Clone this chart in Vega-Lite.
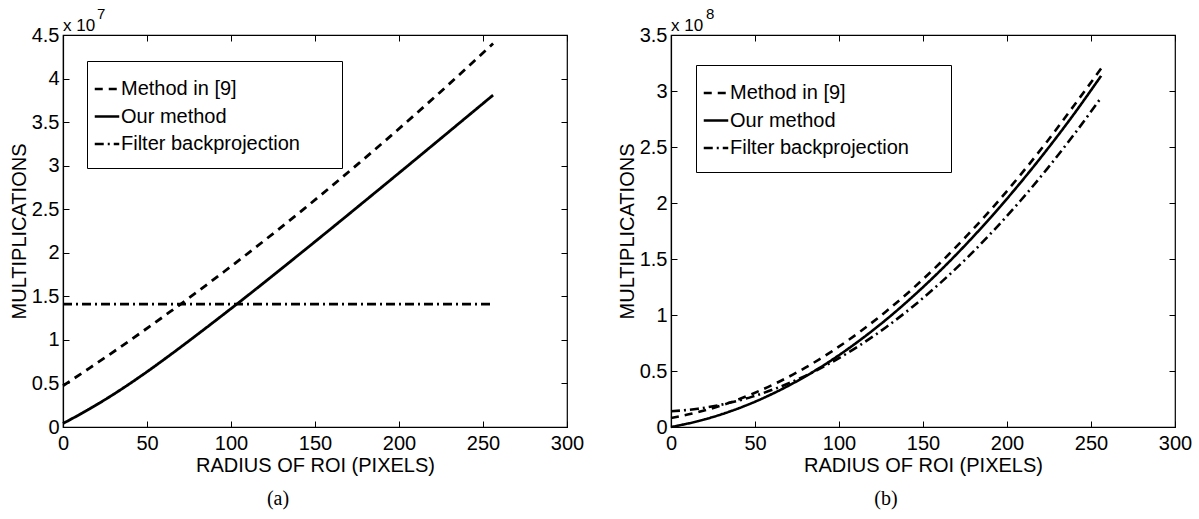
{
  "$schema": "https://vega.github.io/schema/vega-lite/v6.json",
  "background": "white",
  "padding": {"left": 8, "top": 6, "right": 5, "bottom": 5},
  "bounds": "flush",
  "spacing": 104,
  "config": {
    "font": "Liberation Sans",
    "view": {"stroke": "black", "strokeWidth": 1.2},
    "axis": {
      "domainColor": "black", "domainWidth": 1.2, "tickColor": "black", "tickWidth": 1,
      "labelColor": "black", "titleColor": "black",
      "labelFont": "Liberation Sans", "titleFont": "Liberation Sans",
      "labelFontSize": 20, "titleFontSize": 20, "titleFontWeight": "normal",
      "grid": false, "tickSize": -6, "labelPadding": 10, "labelOverlap": false, "labelFlush": false
    },
    "axisX": {"titlePadding": 2, "labelPadding": 12},
    "axisY": {"titlePadding": 2},
    "legend": {
      "orient": "none", "strokeColor": "black", "fillColor": "white", "padding": 14,
      "labelFont": "Liberation Sans", "labelFontSize": 20, "labelColor": "black", "labelLimit": 400,
      "symbolType": "stroke", "symbolSize": 600, "symbolStrokeWidth": 2.6, "symbolStrokeColor": "black",
      "symbolOffset": -8,
      "rowPadding": 3.5, "labelOffset": 0, "titleFontSize": 6, "titlePadding": 28, "titleOrient": "right"
    },
    "title": {"font": "Liberation Serif", "fontSize": 20, "fontWeight": "normal", "color": "black", "orient": "bottom", "anchor": "middle", "frame": "group", "offset": 14, "dx": -37}
  },
  "datasets": {
    "a": [
      {"r": 0, "m": 0.474, "method": "Method in [9]"},
      {"r": 16, "m": 0.679, "method": "Method in [9]"},
      {"r": 32, "m": 0.889, "method": "Method in [9]"},
      {"r": 48, "m": 1.105, "method": "Method in [9]"},
      {"r": 64, "m": 1.326, "method": "Method in [9]"},
      {"r": 80, "m": 1.553, "method": "Method in [9]"},
      {"r": 96, "m": 1.785, "method": "Method in [9]"},
      {"r": 112, "m": 2.022, "method": "Method in [9]"},
      {"r": 128, "m": 2.265, "method": "Method in [9]"},
      {"r": 144, "m": 2.513, "method": "Method in [9]"},
      {"r": 160, "m": 2.767, "method": "Method in [9]"},
      {"r": 176, "m": 3.026, "method": "Method in [9]"},
      {"r": 192, "m": 3.290, "method": "Method in [9]"},
      {"r": 208, "m": 3.560, "method": "Method in [9]"},
      {"r": 224, "m": 3.835, "method": "Method in [9]"},
      {"r": 240, "m": 4.116, "method": "Method in [9]"},
      {"r": 256, "m": 4.402, "method": "Method in [9]"},
      {"r": 0, "m": 0.04, "method": "Our method"},
      {"r": 16, "m": 0.21, "method": "Our method"},
      {"r": 32, "m": 0.399, "method": "Our method"},
      {"r": 48, "m": 0.607, "method": "Our method"},
      {"r": 64, "m": 0.830, "method": "Our method"},
      {"r": 80, "m": 1.062, "method": "Our method"},
      {"r": 96, "m": 1.299, "method": "Our method"},
      {"r": 112, "m": 1.540, "method": "Our method"},
      {"r": 128, "m": 1.786, "method": "Our method"},
      {"r": 144, "m": 2.034, "method": "Our method"},
      {"r": 160, "m": 2.284, "method": "Our method"},
      {"r": 176, "m": 2.536, "method": "Our method"},
      {"r": 192, "m": 2.789, "method": "Our method"},
      {"r": 208, "m": 3.043, "method": "Our method"},
      {"r": 224, "m": 3.298, "method": "Our method"},
      {"r": 240, "m": 3.554, "method": "Our method"},
      {"r": 256, "m": 3.810, "method": "Our method"},
      {"r": 0, "m": 1.41, "method": "Filter backprojection"},
      {"r": 256, "m": 1.41, "method": "Filter backprojection"}
    ],
    "b": [
      {"r": 0, "m": 0.08, "method": "Method in [9]"},
      {"r": 16, "m": 0.132, "method": "Method in [9]"},
      {"r": 32, "m": 0.202, "method": "Method in [9]"},
      {"r": 48, "m": 0.293, "method": "Method in [9]"},
      {"r": 64, "m": 0.402, "method": "Method in [9]"},
      {"r": 80, "m": 0.530, "method": "Method in [9]"},
      {"r": 96, "m": 0.678, "method": "Method in [9]"},
      {"r": 112, "m": 0.845, "method": "Method in [9]"},
      {"r": 128, "m": 1.032, "method": "Method in [9]"},
      {"r": 144, "m": 1.237, "method": "Method in [9]"},
      {"r": 160, "m": 1.462, "method": "Method in [9]"},
      {"r": 176, "m": 1.706, "method": "Method in [9]"},
      {"r": 192, "m": 1.968, "method": "Method in [9]"},
      {"r": 208, "m": 2.251, "method": "Method in [9]"},
      {"r": 224, "m": 2.552, "method": "Method in [9]"},
      {"r": 240, "m": 2.873, "method": "Method in [9]"},
      {"r": 256, "m": 3.20, "method": "Method in [9]"},
      {"r": 0, "m": 0.0, "method": "Our method"},
      {"r": 16, "m": 0.052, "method": "Our method"},
      {"r": 32, "m": 0.123, "method": "Our method"},
      {"r": 48, "m": 0.213, "method": "Our method"},
      {"r": 64, "m": 0.323, "method": "Our method"},
      {"r": 80, "m": 0.452, "method": "Our method"},
      {"r": 96, "m": 0.601, "method": "Our method"},
      {"r": 112, "m": 0.77, "method": "Our method"},
      {"r": 128, "m": 0.958, "method": "Our method"},
      {"r": 144, "m": 1.166, "method": "Our method"},
      {"r": 160, "m": 1.392, "method": "Our method"},
      {"r": 176, "m": 1.637, "method": "Our method"},
      {"r": 192, "m": 1.900, "method": "Our method"},
      {"r": 208, "m": 2.181, "method": "Our method"},
      {"r": 224, "m": 2.480, "method": "Our method"},
      {"r": 240, "m": 2.797, "method": "Our method"},
      {"r": 256, "m": 3.135, "method": "Our method"},
      {"r": 0, "m": 0.14, "method": "Filter backprojection"},
      {"r": 16, "m": 0.163, "method": "Filter backprojection"},
      {"r": 32, "m": 0.206, "method": "Filter backprojection"},
      {"r": 48, "m": 0.269, "method": "Filter backprojection"},
      {"r": 64, "m": 0.353, "method": "Filter backprojection"},
      {"r": 80, "m": 0.457, "method": "Filter backprojection"},
      {"r": 96, "m": 0.581, "method": "Filter backprojection"},
      {"r": 112, "m": 0.726, "method": "Filter backprojection"},
      {"r": 128, "m": 0.891, "method": "Filter backprojection"},
      {"r": 144, "m": 1.076, "method": "Filter backprojection"},
      {"r": 160, "m": 1.282, "method": "Filter backprojection"},
      {"r": 176, "m": 1.507, "method": "Filter backprojection"},
      {"r": 192, "m": 1.754, "method": "Filter backprojection"},
      {"r": 208, "m": 2.020, "method": "Filter backprojection"},
      {"r": 224, "m": 2.307, "method": "Filter backprojection"},
      {"r": 240, "m": 2.614, "method": "Filter backprojection"},
      {"r": 256, "m": 2.94, "method": "Filter backprojection"}
    ]
  },
  "resolve": {"scale": {"x": "independent", "y": "independent", "strokeDash": "independent"}, "legend": {"strokeDash": "independent"}},
  "hconcat": [
    {
      "width": 504, "height": 392,
      "title": {"text": "(a)"},
      "resolve": {"axis": {"x": "independent", "y": "independent"}},
      "layer": [
        {
          "data": {"name": "a"},
          "mark": {"type": "line", "color": "black", "strokeWidth": 2.8, "interpolate": "monotone"},
          "encoding": {
            "x": {"field": "r", "type": "quantitative", "scale": {"domain": [0, 300], "nice": false},
                  "axis": {"values": [0, 50, 100, 150, 200, 250, 300], "title": "RADIUS OF ROI (PIXELS)"}},
            "y": {"field": "m", "type": "quantitative", "scale": {"domain": [0, 4.5], "nice": false},
                  "axis": {"values": [0, 0.5, 1, 1.5, 2, 2.5, 3, 3.5, 4, 4.5], "format": "~g", "title": "MULTIPLICATIONS"}},
            "strokeDash": {"field": "method", "type": "nominal",
                  "scale": {"domain": ["Method in [9]", "Our method", "Filter backprojection"], "range": [[8, 6], [1, 0], [9, 4, 2, 4]]},
                  "legend": {"title": " ", "legendX": 24, "legendY": 26}}
          }
        },
        {
          "data": {"values": [{"t": "x 10"}]},
          "mark": {"type": "text", "align": "left", "baseline": "alphabetic", "fontSize": 17, "dy": -4, "color": "black"},
          "encoding": {"x": {"datum": 0, "axis": null}, "y": {"datum": 4.5, "axis": null}, "text": {"field": "t"}}
        },
        {
          "data": {"values": [{"t": "7"}]},
          "mark": {"type": "text", "align": "left", "baseline": "alphabetic", "fontSize": 15, "dx": 34, "dy": -16, "color": "black"},
          "encoding": {
            "x": {"datum": 0, "axis": {"orient": "top", "labels": false, "title": null, "domain": false, "values": [0, 50, 100, 150, 200, 250, 300]}},
            "y": {"datum": 4.5, "axis": {"orient": "right", "labels": false, "title": null, "domain": false, "values": [0, 0.5, 1, 1.5, 2, 2.5, 3, 3.5, 4, 4.5]}},
            "text": {"field": "t"}
          }
        }
      ]
    },
    {
      "width": 504, "height": 392,
      "title": {"text": "(b)"},
      "resolve": {"axis": {"x": "independent", "y": "independent"}},
      "layer": [
        {
          "data": {"name": "b"},
          "mark": {"type": "line", "color": "black", "strokeWidth": 2.6, "interpolate": "monotone"},
          "encoding": {
            "x": {"field": "r", "type": "quantitative", "scale": {"domain": [0, 300], "nice": false},
                  "axis": {"values": [0, 50, 100, 150, 200, 250, 300], "title": "RADIUS OF ROI (PIXELS)"}},
            "y": {"field": "m", "type": "quantitative", "scale": {"domain": [0, 3.5], "nice": false},
                  "axis": {"values": [0, 0.5, 1, 1.5, 2, 2.5, 3, 3.5], "format": "~g", "title": "MULTIPLICATIONS"}},
            "strokeDash": {"field": "method", "type": "nominal",
                  "scale": {"domain": ["Method in [9]", "Our method", "Filter backprojection"], "range": [[8, 6], [1, 0], [9, 4, 2, 4]]},
                  "legend": {"title": " ", "legendX": 25, "legendY": 30}}
          }
        },
        {
          "data": {"values": [{"t": "x 10"}]},
          "mark": {"type": "text", "align": "left", "baseline": "alphabetic", "fontSize": 17, "dy": -4, "color": "black"},
          "encoding": {"x": {"datum": 0, "axis": null}, "y": {"datum": 3.5, "axis": null}, "text": {"field": "t"}}
        },
        {
          "data": {"values": [{"t": "8"}]},
          "mark": {"type": "text", "align": "left", "baseline": "alphabetic", "fontSize": 15, "dx": 35, "dy": -16, "color": "black"},
          "encoding": {
            "x": {"datum": 0, "axis": {"orient": "top", "labels": false, "title": null, "domain": false, "values": [0, 50, 100, 150, 200, 250, 300]}},
            "y": {"datum": 3.5, "axis": {"orient": "right", "labels": false, "title": null, "domain": false, "values": [0, 0.5, 1, 1.5, 2, 2.5, 3, 3.5]}},
            "text": {"field": "t"}
          }
        }
      ]
    }
  ]
}
